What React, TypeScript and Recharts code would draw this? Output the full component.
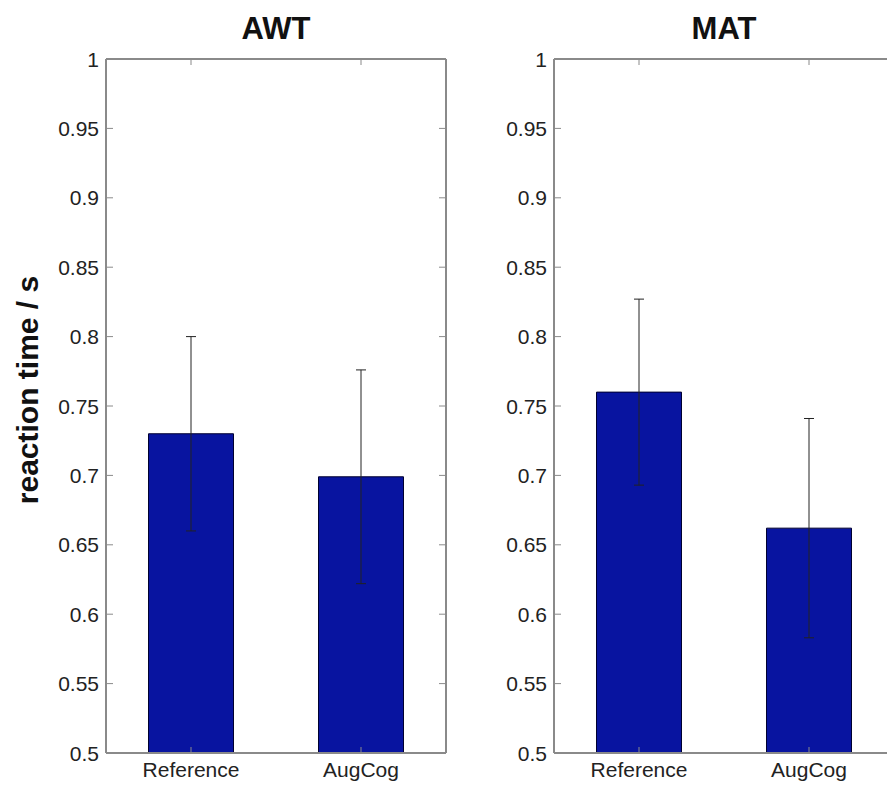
import React from "react"
import { BarChart, Bar, XAxis, YAxis, ErrorBar } from "recharts"

const CATEGORIES = ["Reference", "AugCog"]
const AWT_MEANS = [0.73, 0.699]
const AWT_ERRORS = [0.07, 0.077]
const MAT_MEANS = [0.76, 0.662]
const MAT_ERRORS = [0.067, 0.079]
const Y_TICKS = [0.5, 0.55, 0.6, 0.65, 0.7, 0.75, 0.8, 0.85, 0.9, 0.95, 1]

const FONT = "'Liberation Sans', Arial, Helvetica, sans-serif"
const AXIS_GREY = "#8a8a8a"
const BAR_BLUE = "#0814a0"

// plot box inside each 460x785 panel
const W = 460
const H = 785
const PL = 106
const PR = 446
const PT = 59
const PB = 753

type Row = { name: string; mean: number; err: number }

function rows(means: number[], errs: number[]): Row[] {
  return CATEGORIES.map((name, i) => ({ name, mean: means[i], err: errs[i] }))
}

const axisLine = { stroke: AXIS_GREY, strokeWidth: 2 }

// matlab style: ticks point into the box
function LeftTick(props: any) {
  const { y, payload } = props
  return (
    <g>
      <line x1={PL} x2={PL + 7} y1={y} y2={y} stroke={AXIS_GREY} strokeWidth={1} />
      <text
        x={PL - 7}
        y={y}
        textAnchor="end"
        dominantBaseline="central"
        fontSize={21}
        fontFamily={FONT}
        fill="#222"
      >
        {String(payload.value)}
      </text>
    </g>
  )
}

function RightTick(props: any) {
  const { y } = props
  return <line x1={PR} x2={PR - 7} y1={y} y2={y} stroke={AXIS_GREY} strokeWidth={1} />
}

function BottomTick(props: any) {
  const { x, payload } = props
  return (
    <g>
      <line x1={x} x2={x} y1={PB} y2={PB - 6} stroke={AXIS_GREY} strokeWidth={1} />
      <text
        x={x}
        y={PB + 9}
        dy="0.71em"
        textAnchor="middle"
        fontSize={21}
        fontFamily={FONT}
        fill="#222"
      >
        {payload.value}
      </text>
    </g>
  )
}

function TopTick(props: any) {
  const { x } = props
  return <line x1={x} x2={x} y1={PT} y2={PT + 6} stroke={AXIS_GREY} strokeWidth={1} />
}

function Panel({ data, left, title }: { data: Row[]; left: number; title: string }) {
  return (
    <div style={{ position: "absolute", left, top: 0, width: W, height: H }}>
      <div
        style={{
          position: "absolute",
          left: PL,
          width: PR - PL,
          top: 12,
          textAlign: "center",
          fontFamily: FONT,
          fontWeight: 700,
          fontSize: 31,
          lineHeight: "34px",
          color: "#111",
        }}
      >
        {title}
      </div>
      <BarChart
        width={W}
        height={H}
        data={data}
        margin={{ top: PT - 1, right: W - PR - 1, bottom: 0, left: 0 }}
        barCategoryGap="25%"
      >
        <XAxis
          dataKey="name"
          xAxisId="bottom"
          height={H - PB}
          axisLine={axisLine}
          tickLine={false}
          tick={<BottomTick />}
          interval={0}
        />
        <XAxis
          dataKey="name"
          xAxisId="top"
          orientation="top"
          height={1}
          axisLine={axisLine}
          tickLine={false}
          tick={<TopTick />}
          interval={0}
        />
        <YAxis
          yAxisId="left"
          width={PL}
          domain={[0.5, 1]}
          ticks={Y_TICKS}
          interval={0}
          allowDataOverflow
          axisLine={axisLine}
          tickLine={false}
          tick={<LeftTick />}
        />
        <YAxis
          yAxisId="right"
          orientation="right"
          width={1}
          domain={[0.5, 1]}
          ticks={Y_TICKS}
          interval={0}
          allowDataOverflow
          axisLine={axisLine}
          tickLine={false}
          tick={<RightTick />}
        />
        <Bar
          dataKey="mean"
          xAxisId="bottom"
          yAxisId="left"
          fill={BAR_BLUE}
          stroke="#000030"
          strokeWidth={1}
          isAnimationActive={false}
        >
          <ErrorBar dataKey="err" width={5} stroke="#222" strokeWidth={1} isAnimationActive={false} />
        </Bar>
      </BarChart>
    </div>
  )
}

export default function App() {
  return (
    <div
      style={{
        position: "fixed",
        left: 0,
        top: 0,
        width: 887,
        height: 785,
        overflow: "hidden",
        background: "#fff",
      }}
    >
      <div
        style={{
          position: "absolute",
          left: 28,
          top: 390,
          transform: "translate(-50%, -50%) rotate(-90deg)",
          whiteSpace: "nowrap",
          fontFamily: FONT,
          fontWeight: 700,
          fontSize: 30,
          color: "#111",
        }}
      >
        reaction time / s
      </div>
      <Panel data={rows(AWT_MEANS, AWT_ERRORS)} left={0} title="AWT" />
      <Panel data={rows(MAT_MEANS, MAT_ERRORS)} left={448} title="MAT" />
    </div>
  )
}
